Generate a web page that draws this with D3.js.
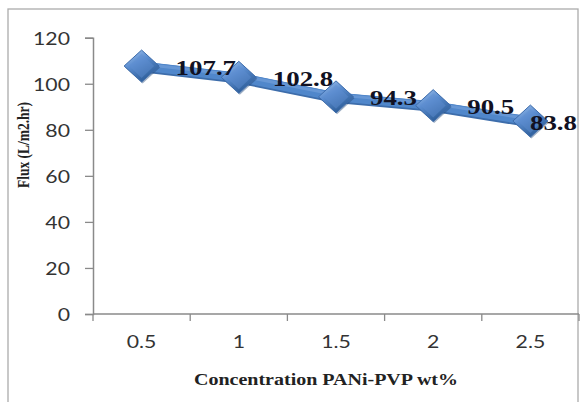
<!DOCTYPE html>
<html>
<head>
<meta charset="utf-8">
<script src="https://cdn.jsdelivr.net/npm/d3@7/dist/d3.min.js"></script>
<style>
  html, body { margin: 0; padding: 0; background: #fff; }
  svg { display: block; }
</style>
</head>
<body>
<script>
// PANi-PVP concentration vs. permeate flux
const concentrations = ["0.5", "1", "1.5", "2", "2.5"];
const fluxValues = [107.7, 102.8, 94.3, 90.5, 83.8];
const yTicks = [0, 20, 40, 60, 80, 100, 120];
const xTitle = "Concentration PANi-PVP wt%";
const yTitle = "Flux (L/m2.hr)";

const W = 580, H = 402;
const plot = { left: 93, right: 579, top: 37.7, bottom: 314 };
const SX = 1.25; // horizontal text stretch

const svg = d3.select("body").append("svg")
  .attr("width", W).attr("height", H);

const defs = svg.append("defs");
const grad = defs.append("linearGradient")
  .attr("id", "diamondFill")
  .attr("x1", "0").attr("y1", "0").attr("x2", "0.6").attr("y2", "1");
grad.append("stop").attr("offset", "0%").attr("stop-color", "#a9c8ee");
grad.append("stop").attr("offset", "45%").attr("stop-color", "#5b8dd0");
grad.append("stop").attr("offset", "100%").attr("stop-color", "#2b5b96");

// outer frame
svg.append("rect")
  .attr("x", 8).attr("y", 9)
  .attr("width", 570).attr("height", 400)
  .attr("fill", "#fff")
  .attr("stroke", "#ababab").attr("stroke-width", 1.3);

const x = d3.scaleBand()
  .domain(concentrations)
  .range([plot.left, plot.right]);

const y = d3.scaleLinear()
  .domain([0, 120])
  .range([plot.bottom, plot.top]);

const axisColor = "#8a8a8a";
const tickFont = "Lato, 'Open Sans', sans-serif";

// Y axis
const yAxis = svg.append("g")
  .attr("transform", `translate(${plot.left},0)`)
  .call(d3.axisLeft(y).tickValues(yTicks).tickSize(8).tickPadding(0).tickFormat(d3.format("d")));
yAxis.select(".domain").attr("stroke", axisColor).attr("stroke-width", 1.5);
yAxis.selectAll(".tick line").attr("stroke", axisColor).attr("stroke-width", 1.3);
yAxis.selectAll(".tick text")
  .attr("x", null)
  .attr("dy", null)
  .attr("dominant-baseline", "central")
  .attr("text-anchor", "end")
  .attr("transform", `translate(-23,0) scale(${SX},1)`)
  .attr("fill", "#333")
  .style("font-family", tickFont)
  .style("font-size", "17px");

// X axis with tick marks between categories
const xAxisG = svg.append("g")
  .attr("transform", `translate(0,${plot.bottom})`);
xAxisG.append("line")
  .attr("x1", plot.left).attr("x2", plot.right)
  .attr("y1", 0).attr("y2", 0)
  .attr("stroke", axisColor).attr("stroke-width", 1.5);
const boundaries = concentrations.map(c => x(c)).concat([plot.right]);
xAxisG.selectAll("line.tk").data(boundaries).join("line")
  .attr("class", "tk")
  .attr("x1", d => d).attr("x2", d => d)
  .attr("y1", 0).attr("y2", 7)
  .attr("stroke", axisColor).attr("stroke-width", 1.3);
xAxisG.selectAll("text").data(concentrations).join("text")
  .attr("transform", d => `translate(${x(d) + x.bandwidth() / 2},34) scale(${SX},1)`)
  .attr("text-anchor", "middle")
  .attr("fill", "#333")
  .style("font-family", tickFont)
  .style("font-size", "17px")
  .text(d => d);

// axis titles
const serif = "'Liberation Serif', 'Times New Roman', serif";
svg.append("text")
  .attr("transform", `translate(326,385) scale(${SX},1)`)
  .attr("text-anchor", "middle")
  .attr("fill", "#222")
  .style("font-family", serif)
  .style("font-weight", "bold")
  .style("font-size", "16px")
  .text(xTitle);

svg.append("text")
  .attr("transform", `translate(29,145) scale(${SX},1) rotate(-90)`)
  .attr("text-anchor", "middle")
  .attr("fill", "#222")
  .style("font-family", serif)
  .style("font-weight", "bold")
  .style("font-size", "13.5px")
  .text(yTitle);

// series
const pts = concentrations.map((c, i) => ({ c, v: fluxValues[i], px: x(c) + x.bandwidth() / 2, py: y(fluxValues[i]) }));
const line = d3.line().x(d => d.px).y(d => d.py);

const series = svg.append("g");
series.append("path").datum(pts)
  .attr("d", line).attr("fill", "none")
  .attr("stroke", "#3d6dab").attr("stroke-width", 10.5)
  .attr("transform", "translate(0,1)")
  .attr("stroke-linejoin", "round");
series.append("path").datum(pts)
  .attr("d", line).attr("fill", "none")
  .attr("stroke", "#5087cb").attr("stroke-width", 9)
  .attr("stroke-linejoin", "round");
series.append("path").datum(pts)
  .attr("d", line).attr("fill", "none")
  .attr("stroke", "#7ea8df").attr("stroke-width", 3)
  .attr("stroke-opacity", 0.5)
  .attr("transform", "translate(0,-2)")
  .attr("stroke-linejoin", "round");

// diamond markers
const hw = 17.5, hh = 16;
const diamond = `M0,${-hh}L${hw},0L0,${hh}L${-hw},0Z`;
const markers = series.selectAll("g.mk").data(pts).join("g")
  .attr("class", "mk")
  .attr("transform", d => `translate(${d.px},${d.py})`);
markers.append("path")
  .attr("d", diamond)
  .attr("transform", "translate(1,1.5)")
  .attr("fill", "#24497a").attr("opacity", 0.45);
markers.append("path")
  .attr("d", diamond)
  .attr("fill", "url(#diamondFill)")
  .attr("stroke", "#3d6cab").attr("stroke-width", 1);
markers.append("path")
  .attr("d", `M0,${-hh + 4}L${hw - 5},0L0,${hh - 4}L${-hw + 5},0Z`)
  .attr("fill", "#5f8fd0").attr("opacity", 0.45);

// value labels
const labels = svg.append("g").selectAll("text").data(pts).join("text")
  .attr("fill", "#111122")
  .style("font-family", serif)
  .style("font-weight", "bold")
  .style("font-size", "21.5px")
  .attr("dominant-baseline", "central")
  .text(d => d.v.toFixed(1));
labels.attr("transform", function (d) {
  const w = this.getComputedTextLength() * SX;
  const left = Math.min(d.px + 34, 577 - w);
  return `translate(${left},${d.py + 1}) scale(${SX},1)`;
});
</script>
</body>
</html>
